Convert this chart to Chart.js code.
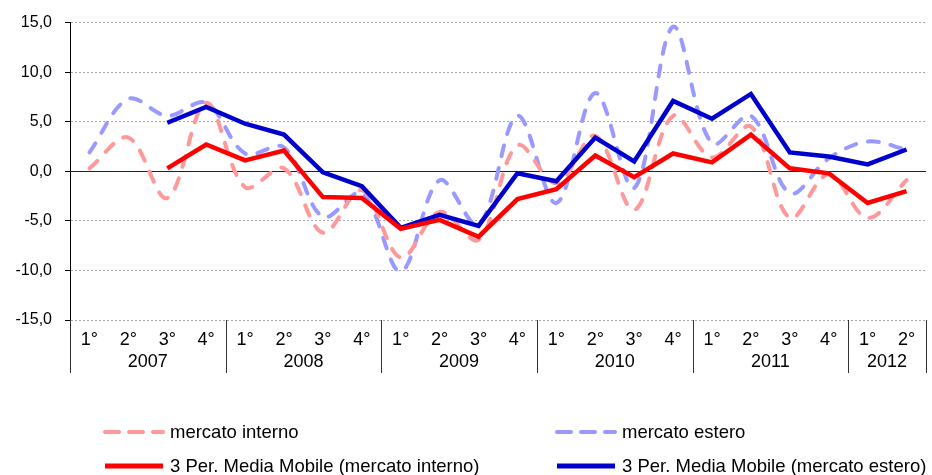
<!DOCTYPE html>
<html>
<head>
<meta charset="utf-8">
<script src="https://cdn.jsdelivr.net/npm/chart.js@4/dist/chart.umd.min.js"></script>
<style>
  html, body { margin: 0; padding: 0; background: #fff; }
  #wrap { position: relative; width: 932px; height: 475px; font-family: "Liberation Sans", Arial, sans-serif; }
  #myChart { position: absolute; left: 0; top: 0; }
  .legend-item { position: absolute; height: 24px; display: flex; align-items: center; font-size: 18.5px; color: #000; white-space: nowrap; }
  .legend-item svg { margin-right: 5px; }
</style>
</head>
<body>
<div id="wrap">
  <canvas id="myChart" width="932" height="475"></canvas>
</div>
<script>
const quarters = ["1°", "2°", "3°", "4°", "1°", "2°", "3°", "4°", "1°", "2°", "3°", "4°",
                  "1°", "2°", "3°", "4°", "1°", "2°", "3°", "4°", "1°", "2°"];
const years = ["2007", "2008", "2009", "2010", "2011", "2012"];
const quartersPerYear = [4, 4, 4, 4, 4, 2];

const mercatoInterno = [0.3, 3.4, -2.7, 6.9, -1.6, 0.3, -6.2, -1.9, -8.7, -4.1, -6.9,
                        2.6, -1.2, 3.6, -3.9, 5.6, 1.4, 4.5, -4.7, -0.3, -4.7, -0.9];
const mercatoEstero = [1.9, 7.3, 5.6, 6.9, 1.8, 2.4, -4.6, -2.2, -10.1, -0.9, -5.4,
                       5.6, -3.2, 7.9, -1.7, 14.6, 2.8, 5.6, -2.2, 1.3, 3.0, 2.2];
const mediaMobileInterno = [null, null, 0.3, 2.7, 1.1, 2.1, -2.6, -2.7, -5.8, -4.9, -6.6,
                            -2.8, -1.8, 1.6, -0.6, 1.8, 0.9, 3.7, 0.3, -0.2, -3.2, -2.0];
const mediaMobileEstero = [null, null, 4.9, 6.5, 4.8, 3.7, -0.1, -1.5, -5.7, -4.4, -5.5,
                           -0.2, -1.0, 3.4, 1.0, 7.1, 5.3, 7.8, 1.9, 1.5, 0.7, 2.2];

const yTicks = { min: -15, max: 15, step: 5 };

const legendItems = [
  { label: "mercato interno", color: "#ff9999", dashed: true, left: 103, top: 420 },
  { label: "mercato estero", color: "#9999ff", dashed: true, left: 555, top: 420 },
  { label: "3 Per. Media Mobile (mercato interno)", color: "#ff0000", dashed: false, left: 103, top: 454 },
  { label: "3 Per. Media Mobile (mercato estero)", color: "#0000cc", dashed: false, left: 555, top: 454 }
];

// draws the zero line, the year boxes under the quarters and the year labels
const yearAxisPlugin = {
  id: "yearAxis",
  beforeDatasetsDraw: (chart) => {
    const { ctx, chartArea, scales } = chart;
    const zeroY = Math.round(scales.y.getPixelForValue(0)) + 0.5;
    ctx.save();
    ctx.strokeStyle = "#222";
    ctx.lineWidth = 1;
    ctx.beginPath();
    ctx.moveTo(chartArea.left, zeroY);
    ctx.lineTo(chartArea.right, zeroY);
    ctx.stroke();
    ctx.restore();
  },
  afterDraw: (chart) => {
    const { ctx, chartArea, scales } = chart;
    const x = scales.x;
    const half = (x.getPixelForValue(1) - x.getPixelForValue(0)) / 2;
    const top = chartArea.bottom;
    const bottom = 373;
    ctx.save();
    ctx.strokeStyle = "#333";
    ctx.lineWidth = 1;
    ctx.fillStyle = "#000";
    ctx.font = "18px 'Liberation Sans', Arial, sans-serif";
    ctx.textAlign = "center";
    ctx.textBaseline = "middle";
    let start = 0;
    const drawSep = (px) => {
      const sx = Math.round(px) + 0.5;
      ctx.beginPath();
      ctx.moveTo(sx, top);
      ctx.lineTo(sx, bottom);
      ctx.stroke();
    };
    drawSep(x.getPixelForValue(0) - half);
    years.forEach((year, i) => {
      const end = start + quartersPerYear[i] - 1;
      const left = x.getPixelForValue(start) - half;
      const right = x.getPixelForValue(end) + half;
      drawSep(right);
      ctx.fillText(year, (left + right) / 2, 362);
      start = end + 1;
    });
    ctx.restore();
  }
};

const generateGraph = () => {
  const context = document.getElementById("myChart").getContext("2d");
  const lineBase = { pointRadius: 0, pointHoverRadius: 0, fill: false };
  new Chart(context, {
    type: "line",
    data: {
      labels: quarters,
      datasets: [
        { ...lineBase, label: "3 Per. Media Mobile (mercato interno)", data: mediaMobileInterno,
          borderColor: "#ff0000", borderWidth: 4.5, tension: 0 },
        { ...lineBase, label: "3 Per. Media Mobile (mercato estero)", data: mediaMobileEstero,
          borderColor: "#0000cc", borderWidth: 4.5, tension: 0 },
        { ...lineBase, label: "mercato interno", data: mercatoInterno,
          borderColor: "#ff9999", borderWidth: 4, borderDash: [11, 12], borderCapStyle: "round", tension: 0.35 },
        { ...lineBase, label: "mercato estero", data: mercatoEstero,
          borderColor: "#9999ff", borderWidth: 4, borderDash: [11, 12], borderCapStyle: "round", tension: 0.35 }
      ]
    },
    options: {
      responsive: false,
      animation: false,
      events: [],
      layout: { padding: { top: 21, right: 6, left: 0, bottom: 0 } },
      plugins: { legend: { display: false }, tooltip: { enabled: false }, title: { display: false } },
      scales: {
        x: {
          offset: true,
          grid: { display: false },
          border: { display: false },
          ticks: { color: "#000", font: { family: "'Liberation Sans', Arial", size: 18 }, padding: 1, maxRotation: 0, autoSkip: false },
          afterFit: (scale) => { scale.height = 155; }
        },
        y: {
          min: yTicks.min,
          max: yTicks.max,
          ticks: {
            stepSize: yTicks.step,
            color: "#000",
            padding: 13,
            font: { family: "'Liberation Sans', Arial", size: 16 },
            callback: (value) => value.toFixed(1).replace(".", ",")
          },
          grid: {
            color: (c) => (c.tick && c.tick.value === 0 ? "rgba(0,0,0,0)" : "#a6a6a6"),
            lineWidth: 1,
            drawTicks: true,
            tickLength: 5,
            tickColor: "#000",
            tickBorderDash: []
          },
          border: { display: true, color: "#000", width: 1, dash: [2, 2] },
          afterFit: (scale) => { scale.width = 70; }
        }
      }
    },
    plugins: [yearAxisPlugin]
  });
};

// HTML legend, two columns like the original
const buildLegend = () => {
  const wrap = document.getElementById("wrap");
  for (const item of legendItems) {
    const div = document.createElement("div");
    div.className = "legend-item";
    div.style.left = item.left + "px";
    div.style.top = item.top + "px";
    const dash = item.dashed ? 'stroke-dasharray="14 10" stroke-linecap="round"' : "";
    const width = item.dashed ? 4 : 5;
    div.innerHTML = '<svg width="62" height="10"><line x1="2" y1="5" x2="60" y2="5" stroke="' + item.color +
      '" stroke-width="' + width + '" ' + dash + '/></svg><span>' + item.label + '</span>';
    wrap.appendChild(div);
  }
};

generateGraph();
buildLegend();
</script>
</body>
</html>
